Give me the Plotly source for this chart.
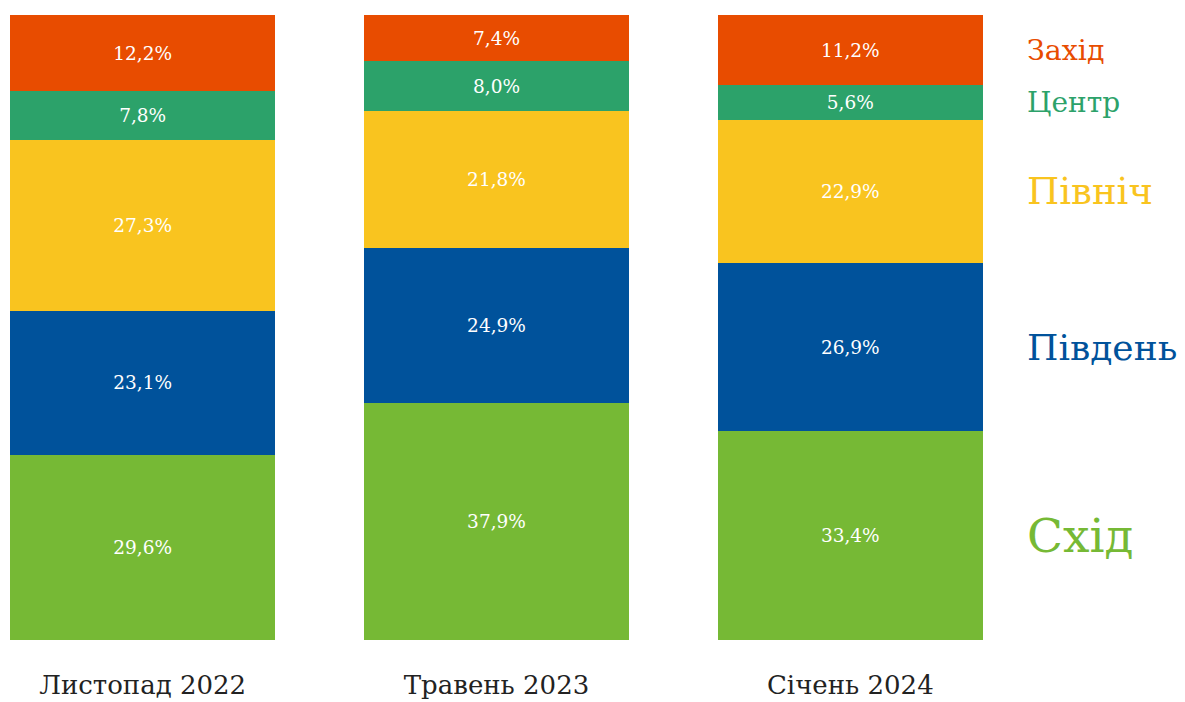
import plotly.graph_objects as go

categories = ["Листопад 2022", "Травень 2023", "Січень 2024"]
regions = ["Схід", "Південь", "Північ", "Центр", "Захід"]
east = [29.6, 37.9, 33.4]
south = [23.1, 24.9, 26.9]
north = [27.3, 21.8, 22.9]
center = [7.8, 8.0, 5.6]
west = [12.2, 7.4, 11.2]

series = [east, south, north, center, west]
colors = ["#76B935", "#00529B", "#F9C41F", "#2CA26A", "#E84C00"]
label_sizes = [47, 36, 37, 28, 28.5]

FONT = "DejaVu Serif"

fig = go.Figure()
for name, vals, col in zip(regions, series, colors):
    fig.add_trace(go.Bar(
        x=categories, y=vals, name=name, marker=dict(color=col, line=dict(width=0)),
        text=[f"{v:.1f}%".replace(".", ",") for v in vals],
        textposition="inside", insidetextanchor="middle", textangle=0,
        textfont=dict(color="white", size=18.5, family=FONT),
        hoverinfo="skip",
    ))

# right-side labels at midpoints of last bar segments
cum = 0
for name, vals, col, sz in zip(regions, series, colors, label_sizes):
    mid = cum + vals[-1] / 2
    cum += vals[-1]
    fig.add_annotation(x=1.043, xref="paper", y=mid, yref="y", text=name,
                       showarrow=False, xanchor="left", yanchor="middle",
                       font=dict(color=col, size=sz, family=FONT))

fig.update_layout(
    barmode="stack", bargap=0.25, showlegend=False,
    width=1177, height=694,
    margin=dict(l=2, r=202, t=7, b=62),
    paper_bgcolor="white", plot_bgcolor="white",
    font=dict(family=FONT),
)
fig.update_xaxes(range=[-0.375, 2.375], showgrid=False, showline=False, ticks="",
                 automargin=False,
                 tickfont=dict(size=26, color="#222222", family=FONT), ticklabelstandoff=27)
fig.update_yaxes(range=[0, 100], visible=False, showgrid=False, automargin=False)

fig.write_html("out.html")
